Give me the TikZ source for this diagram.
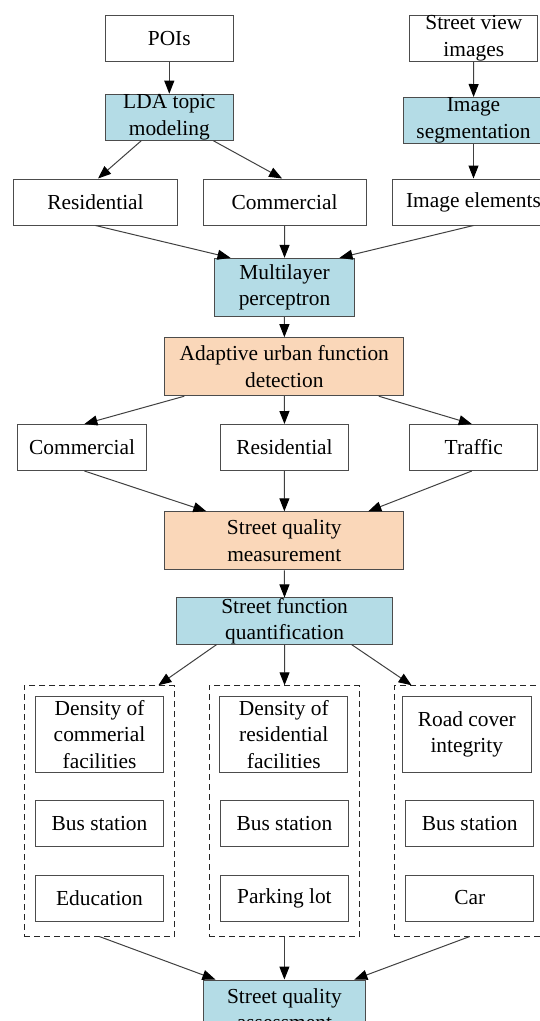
\documentclass[tikz,border=0pt]{standalone}
\usepackage{fontspec}
\setmainfont{Liberation Serif}
\usepackage{tikz}
\usetikzlibrary{arrows.meta}
\usetikzlibrary{calc}

\definecolor{boxblue}{RGB}{180,220,230}
\definecolor{boxpeach}{RGB}{250,215,185}

\begin{document}
\begin{tikzpicture}[x=1pt, y=-1pt,
    every node/.style={font=\fontsize{21.4}{26.5}\selectfont},
    box/.style={draw=black!70, line width=1pt, align=center, inner sep=0pt, minimum height=46pt},
    blue/.style={box, fill=boxblue},
    peach/.style={box, fill=boxpeach, minimum width=239pt, minimum height=58pt},
    group/.style={draw=black!85, line width=1pt, dash pattern=on 6pt off 4pt, minimum width=150.5pt, minimum height=250.3pt, inner sep=0pt},
    arr/.style={-{Triangle[length=13pt, width=10pt, fill=black, color=black]}, line width=1pt, draw=black!75}]

    \useasboundingbox (0,0) rectangle (540,1021);

    % inputs
    \node[box, minimum width=128pt] (poi) at (169.3,38.3) {POIs};

    \node[box, minimum width=128pt] (sv) at (473.8,38.3) {Street view\\images};

    \node[blue, minimum width=128pt] (lda) at (169.3,117.2) {LDA topic\\modeling};

    \node[blue, minimum width=140pt] (seg) at (473.5,120.5) {Image\\segmentation};

    \node[box, minimum width=163.5pt] (res1) at (95.5,202) {Residential};

    \node[box, minimum width=163pt] (com1) at (284.6,202) {Commercial};

    \node[box, minimum width=162pt] (img) at (473.5,202) {Image elements};

    \node[blue, minimum width=140.5pt, minimum height=58.4pt] (mlp) at (284.5,287.5) {Multilayer\\perceptron};

    % detection
    \node[peach] (auf) at (284.3,366.7) {Adaptive urban function\\detection};

    \node[box, minimum width=128.4pt] (com2) at (82.1,447.5) {Commercial};

    \node[box, minimum width=128pt] (res2) at (284.5,447.5) {Residential};

    \node[box, minimum width=128pt] (tra) at (473.8,447.5) {Traffic};

    \node[peach] (sqm) at (284.3,540.8) {Street quality\\measurement};

    \node[blue, minimum width=216pt] (sfq) at (284.6,621) {Street function\\quantification};

    % indicator groups
    \node[group] (g1) at (99.4,810.9) {};

    \node[group] (g2) at (284.4,810.9) {};

    \node[group] (g3) at (469.6,810.9) {};

    \node[box, minimum width=128pt, minimum height=76.7pt] (d1) at (99.5,734.4) {Density of\\commerial\\facilities};

    \node[box, minimum width=128pt] (b1) at (99.5,823.7) {Bus station};

    \node[box, minimum width=128pt] (e1) at (99.5,898) {Education};

    \node[box, minimum width=128pt, minimum height=76.7pt] (d2) at (283.8,734.4) {Density of\\residential\\facilities};

    \node[box, minimum width=128pt] (b2) at (284.4,823.7) {Bus station};

    \node[box, minimum width=128pt] (p2) at (284.4,898) {Parking lot};

    \node[box, minimum width=129pt, minimum height=76.7pt] (d3) at (466.8,734.4) {Road cover\\integrity};

    \node[box, minimum width=128pt] (b3) at (469.7,823.7) {Bus station};

    \node[box, minimum width=128pt] (c3) at (469.7,898) {Car};

    \node[blue, minimum width=162.5pt, minimum height=58pt] (sqa) at (284.4,1009) {Street quality\\assessment};

    % connectors
    \draw[arr] (poi) -- (lda);
    \draw[arr] (sv) -- (seg);
    \draw[arr] (seg) -- (img);
    \draw[arr] ($(lda.south)+(-28,0)$) -- ($(res1.north)+(2.5,0)$);
    \draw[arr] ($(lda.south)+(44,0)$) -- ($(com1.north)+(-2.5,0)$);

    \draw[arr] (res1.south) -- ($(mlp.north)+(-54,0)$);
    \draw[arr] (com1) -- (mlp);
    \draw[arr] (img.south) -- ($(mlp.north)+(55,0)$);
    \draw[arr] (mlp) -- (auf);

    \draw[arr] ($(auf.south)+(-100,0)$) -- ($(com2.north)+(2.3,0)$);
    \draw[arr] (auf) -- (res2);
    \draw[arr] ($(auf.south)+(94.5,0)$) -- ($(tra.north)+(-2,0)$);

    \draw[arr] ($(com2.south)+(2.3,0)$) -- ($(sqm.north)+(-78,0)$);
    \draw[arr] (res2) -- (sqm);
    \draw[arr] ($(tra.south)+(-2,0)$) -- ($(sqm.north)+(84,0)$);
    \draw[arr] (sqm) -- (sfq);

    \draw[arr] ($(sfq.south)+(-68,0)$) -- ($(g1.north)+(59,0)$);
    \draw[arr] (sfq) -- (g2);
    \draw[arr] ($(sfq.south)+(67,0)$) -- ($(g3.north)+(-58,0)$);

    \draw[arr] (g1.south) -- ($(sqa.north)+(-69,0)$);
    \draw[arr] (g2) -- (sqa);
    \draw[arr] (g3.south) -- ($(sqa.north)+(70,0)$);

\end{tikzpicture}
\end{document}
